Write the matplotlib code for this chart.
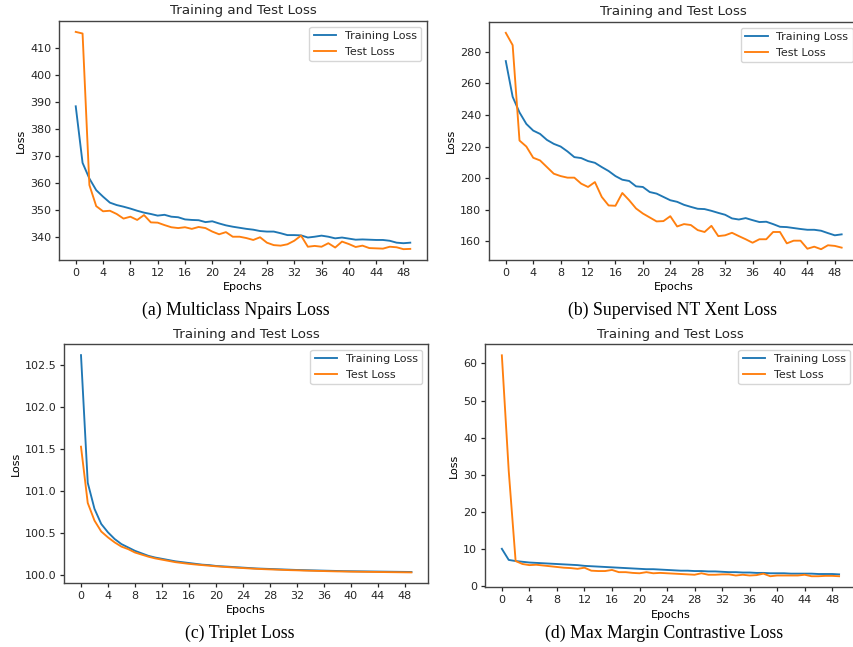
import matplotlib
matplotlib.use("Agg")
import matplotlib.pyplot as plt
from matplotlib.ticker import MultipleLocator, FormatStrFormatter

# data
epochs = list(range(50))

npairs_train = [388.3, 367.4, 361.6, 357.3, 354.9, 352.7, 351.8, 351.2, 350.5, 349.7,
                349.0, 348.5, 347.9, 348.2, 347.5, 347.3, 346.5, 346.3, 346.2, 345.5,
                345.8, 345.0, 344.3, 343.8, 343.4, 343.0, 342.7, 342.2, 342.0, 342.0,
                341.4, 340.7, 340.7, 340.6, 339.8, 340.1, 340.5, 340.1, 339.5, 339.8,
                339.4, 339.0, 339.1, 339.0, 338.9, 338.9, 338.6, 337.9, 337.7, 337.9]
npairs_test = [415.8, 415.2, 359.2, 351.4, 349.5, 349.7, 348.5, 346.8, 347.5, 346.3,
               348.1, 345.4, 345.3, 344.4, 343.6, 343.3, 343.6, 343.0, 343.7, 343.3,
               342.0, 341.0, 341.8, 340.1, 340.1, 339.6, 338.9, 339.9, 337.9, 337.0,
               336.8, 337.3, 338.6, 340.5, 336.4, 336.7, 336.4, 337.7, 336.1, 338.3,
               337.4, 336.3, 336.8, 335.9, 335.8, 335.7, 336.4, 336.2, 335.5, 335.6]

ntxent_train = [274.1, 251.5, 241.6, 234.3, 230.1, 228.0, 224.2, 221.7, 220.0, 216.9,
                213.3, 212.7, 210.8, 209.7, 207.0, 204.5, 201.3, 199.0, 198.2, 194.8,
                194.4, 191.2, 190.2, 188.1, 186.0, 185.0, 183.1, 181.8, 180.6, 180.4,
                179.3, 178.0, 176.8, 174.5, 173.8, 174.7, 173.4, 172.2, 172.4, 170.9,
                169.2, 169.0, 168.4, 167.8, 167.3, 167.3, 166.7, 165.2, 163.8, 164.4]
ntxent_test = [292.0, 284.2, 223.8, 220.0, 212.9, 211.2, 207.0, 202.8, 201.3, 200.3,
               200.3, 196.5, 194.4, 197.5, 188.1, 182.7, 182.5, 190.6, 186.0, 180.8,
               177.6, 175.1, 172.6, 172.8, 175.9, 169.4, 170.9, 170.3, 167.1, 165.9,
               169.8, 163.3, 163.8, 165.4, 163.3, 161.3, 159.1, 161.3, 161.3, 165.9,
               165.9, 158.7, 160.4, 160.4, 155.3, 156.6, 155.0, 157.5, 157.1, 156.0]

triplet_train = [102.62, 101.10, 100.79, 100.61, 100.51, 100.43, 100.37, 100.33, 100.29, 100.26,
                 100.23, 100.21, 100.195, 100.18, 100.165, 100.155, 100.145, 100.135, 100.125, 100.12,
                 100.11, 100.105, 100.10, 100.095, 100.09, 100.085, 100.08, 100.077, 100.074, 100.071,
                 100.068, 100.065, 100.062, 100.06, 100.058, 100.056, 100.054, 100.052, 100.05, 100.048,
                 100.047, 100.046, 100.045, 100.044, 100.043, 100.042, 100.041, 100.04, 100.039, 100.038]
triplet_test = [101.53, 100.86, 100.65, 100.52, 100.45, 100.39, 100.34, 100.31, 100.27, 100.245,
                100.22, 100.20, 100.185, 100.17, 100.155, 100.145, 100.135, 100.127, 100.12, 100.113,
                100.106, 100.10, 100.095, 100.09, 100.085, 100.08, 100.076, 100.072, 100.069, 100.066,
                100.063, 100.06, 100.058, 100.055, 100.053, 100.051, 100.049, 100.047, 100.045, 100.044,
                100.042, 100.041, 100.04, 100.039, 100.038, 100.037, 100.036, 100.035, 100.034, 100.033]

maxmargin_train = [10.0, 7.0, 6.7, 6.5, 6.3, 6.2, 6.1, 6.0, 5.9, 5.8,
                   5.7, 5.6, 5.4, 5.3, 5.2, 5.1, 5.0, 4.9, 4.8, 4.7,
                   4.6, 4.5, 4.5, 4.4, 4.3, 4.2, 4.1, 4.1, 4.0, 4.0,
                   3.9, 3.9, 3.8, 3.7, 3.7, 3.6, 3.6, 3.5, 3.5, 3.4,
                   3.4, 3.4, 3.3, 3.3, 3.3, 3.3, 3.2, 3.2, 3.2, 3.1]
maxmargin_test = [62.2, 31.0, 6.7, 5.9, 5.6, 5.7, 5.5, 5.3, 5.1, 4.9,
                  4.8, 4.6, 4.9, 4.1, 4.0, 4.0, 4.3, 3.7, 3.7, 3.5,
                  3.4, 3.7, 3.4, 3.5, 3.4, 3.3, 3.2, 3.1, 3.0, 3.4,
                  3.0, 3.0, 3.1, 3.1, 2.8, 3.0, 2.8, 2.9, 3.3, 2.6,
                  2.8, 2.8, 2.8, 2.8, 3.0, 2.6, 2.6, 2.7, 2.7, 2.6]

captions = ["(a) Multiclass Npairs Loss", "(b) Supervised NT Xent Loss",
            "(c) Triplet Loss", "(d) Max Margin Contrastive Loss"]

s = 0.8  # the panels are shrunk screenshots of default matplotlib plots
plt.rcParams.update({
    "font.family": "DejaVu Sans",
    "font.size": 10 * s,
    "axes.titlesize": 12 * s,
    "axes.titlepad": 6 * s,
    "axes.labelpad": 4 * s,
    "axes.linewidth": 1.0,
    "lines.linewidth": 1.35,
    "xtick.major.size": 3.5 * s,
    "ytick.major.size": 3.5 * s,
    "xtick.major.width": 0.9,
    "ytick.major.width": 0.9,
    "xtick.major.pad": 3.5 * s,
    "ytick.major.pad": 3.5 * s,
    "text.color": "#262626",
    "xtick.color": "#262626",
    "ytick.color": "#262626",
    "axes.edgecolor": "#444444",
})

fig = plt.figure(figsize=(8.54, 6.47), dpi=100)

# axes boxes in figure fractions (left, bottom, width, height)
boxes = [
    (0.0691, 0.5981, 0.4309, 0.3694),
    (0.5726, 0.5981, 0.4326, 0.3679),
    (0.0755, 0.0985, 0.4256, 0.3694),
    (0.5679, 0.0923, 0.4344, 0.3756),
]
series = [
    (npairs_train, npairs_test, 10, "%d"),
    (ntxent_train, ntxent_test, 20, "%d"),
    (triplet_train, triplet_test, 0.5, "%.1f"),
    (maxmargin_train, maxmargin_test, 10, "%d"),
]
cap_pos = [(0.2763, 0.5209), (0.787, 0.5209), (0.281, 0.0216), (0.7775, 0.0216)]

for box, (train, test, ystep, yfmt), cap, (cx, cy) in zip(boxes, series, captions, cap_pos):
    ax = fig.add_axes(box)
    ax.plot(epochs, train, color="#1f77b4", label="Training Loss")
    ax.plot(epochs, test, color="#ff7f0e", label="Test Loss")
    ax.set_title("Training and Test Loss")
    ax.set_xlabel("Epochs")
    ax.set_ylabel("Loss")
    ax.xaxis.set_major_locator(MultipleLocator(4))
    ax.yaxis.set_major_locator(MultipleLocator(ystep))
    ax.yaxis.set_major_formatter(FormatStrFormatter(yfmt))
    ax.legend(loc="upper right")
    fig.text(cx, cy, cap, ha="center", va="center",
             family="Liberation Serif", fontsize=12.8, color="black")

fig.savefig("out.png", dpi=100)
